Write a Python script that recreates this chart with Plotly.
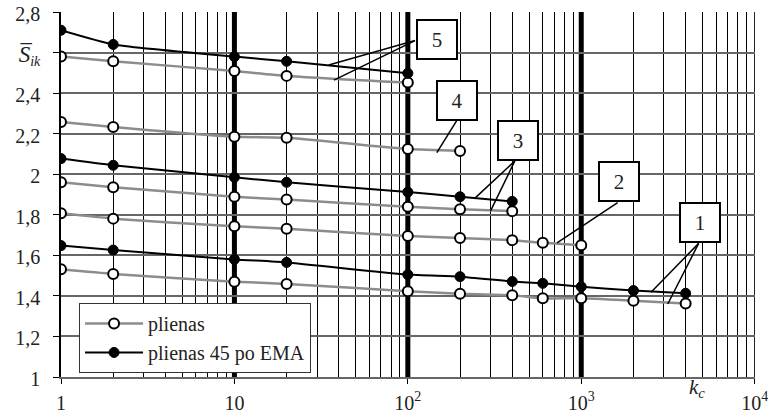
import math
import plotly.graph_objects as go

# Number of cycles k_c at which the measurements were taken
k_c = [1, 2, 10, 20, 100, 200, 400, 600, 1000, 2000, 4000]

# Curve 5
s5_ema = [2.71, 2.64, 2.58, 2.557, 2.498]
s5_base = [2.58, 2.557, 2.509, 2.485, 2.452]
# Curve 4
s4_base = [2.258, 2.233, 2.185, 2.18, 2.124, 2.115]
# Curve 3
s3_ema = [2.077, 2.044, 1.985, 1.96, 1.912, 1.889, 1.866]
s3_base = [1.96, 1.936, 1.889, 1.875, 1.84, 1.827, 1.818]
# Curve 2
s2_base = [1.807, 1.781, 1.743, 1.731, 1.695, 1.685, 1.675, 1.662, 1.65]
# Curve 1
s1_ema = [1.648, 1.626, 1.58, 1.565, 1.505, 1.495, 1.471, 1.462, 1.445, 1.426, 1.413]
s1_base = [1.531, 1.508, 1.47, 1.459, 1.423, 1.411, 1.403, 1.388, 1.388, 1.376, 1.363]

y_ticks = [1, 1.2, 1.4, 1.6, 1.8, 2.0, 2.2, 2.4, 2.6, 2.8]
y_labels = ["1", "1,2", "1,4", "1,6", "1,8", "2", "2,2", "2,4",
            "<span style='font-size:23px'><i>S\u0305</i></span><sub><i>ik</i></sub>",
            "2,8"]
x_ticks = [1, 10, 100, 1000, 10000]
x_labels = ["1", "10", "10<sup>2</sup>", "10<sup>3</sup>", "10<sup>4</sup>"]

SERIF = "Liberation Serif"
GRAY = "#8c8c8c"

fig = go.Figure()

base_curves = [s5_base, s4_base, s3_base, s2_base, s1_base]
ema_curves = [s5_ema, s3_ema, s1_ema]

for i, ys in enumerate(base_curves):
    fig.add_trace(go.Scatter(
        x=k_c[:len(ys)], y=ys, mode="lines+markers", name="plienas",
        legendgroup="base", showlegend=(i == 0),
        line=dict(color=GRAY, width=2.5, shape="spline", smoothing=0.5),
        marker=dict(symbol="circle", size=10, color="white",
                    line=dict(color="black", width=2)),
    ))
for i, ys in enumerate(ema_curves):
    fig.add_trace(go.Scatter(
        x=k_c[:len(ys)], y=ys, mode="lines+markers", name="plienas 45 po EMA",
        legendgroup="ema", showlegend=(i == 0),
        line=dict(color="black", width=2, shape="spline", smoothing=0.5),
        marker=dict(symbol="circle", size=10, color="black",
                    line=dict(color="black", width=1)),
    ))

# Heavy decade lines
for xv in [10, 100, 1000]:
    fig.add_shape(type="line", x0=xv, x1=xv, y0=1, y1=2.8, xref="x", yref="y",
                  line=dict(color="black", width=5), layer="below")
fig.add_shape(type="line", x0=10000, x1=10000, y0=1, y1=2.8, xref="x", yref="y",
              line=dict(color="black", width=1), layer="below")

# Leader lines from the numbered boxes to their curves
leaders = [
    (110, 2.659, 35, 2.539), (110, 2.659, 37.5, 2.464),   # 5
    (191, 2.263, 147, 2.106),                              # 4
    (414, 2.065, 243, 1.881), (414, 2.065, 300, 1.819),   # 3
    (1622, 1.860, 725, 1.662),                             # 2
    (4755, 1.659, 2525, 1.418), (4755, 1.659, 3154, 1.360),  # 1
]
for x0, y0, x1, y1 in leaders:
    fig.add_shape(type="line", x0=x0, y0=y0, x1=x1, y1=y1, xref="x", yref="y",
                  line=dict(color="black", width=1.5))

# Numbered curve labels
boxes = [("5", 147, 2.662), ("4", 191.5, 2.364), ("3", 434, 2.164),
         ("2", 1644, 1.962), ("1", 4820, 1.764)]
for txt, bx, by in boxes:
    fig.add_annotation(x=math.log10(bx), y=by, xref="x", yref="y", text=txt,
                       showarrow=False, width=36, height=35, borderpad=1,
                       bordercolor="black", borderwidth=2, bgcolor="white",
                       font=dict(family=SERIF, size=21, color="#222"))

fig.add_annotation(x=0.931, y=-0.072, xref="paper", yref="paper",
                   text="<i>k<sub>c</sub></i>", showarrow=False,
                   font=dict(family=SERIF, size=21, color="#222"))

fig.update_xaxes(
    type="log", range=[0, 4.002], tickvals=x_ticks, ticktext=x_labels,
    showgrid=False, showline=True, linecolor="#666", linewidth=1.5,
    ticks="outside", ticklen=5, tickcolor="black", ticklabelstandoff=2,
    ticklabeloverflow="allow",
    tickfont=dict(family=SERIF, size=20, color="#222"),
    minor=dict(dtick="D1", showgrid=True, gridcolor="black", gridwidth=1, ticks=""),
    zeroline=False, automargin=False,
)
fig.update_yaxes(
    range=[1, 2.8], tickvals=y_ticks, ticktext=y_labels,
    showgrid=True, gridcolor="#666", gridwidth=1.5,
    showline=True, linecolor="black", linewidth=1.5,
    ticks="outside", ticklen=6, tickcolor="black",
    ticklabelstandoff=9, ticklabelshift=2, ticklabeloverflow="allow",
    tickfont=dict(family=SERIF, size=20, color="#222"),
    zeroline=False, automargin=False,
)

fig.update_layout(
    width=768, height=418,
    margin=dict(l=61, r=13, t=12, b=41),
    paper_bgcolor="white", plot_bgcolor="white",
    font=dict(family=SERIF, size=20, color="#222"),
    legend=dict(x=0.026, y=0.107, xanchor="left", yanchor="middle",
                bgcolor="white", bordercolor="#333", borderwidth=1,
                itemwidth=58,
                font=dict(family=SERIF, size=20, color="#222"),
                tracegroupgap=0),
)

fig.write_html("out.html")
